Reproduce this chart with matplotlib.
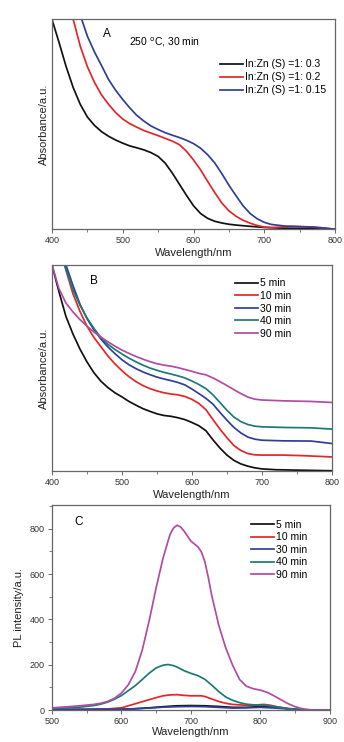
import matplotlib
matplotlib.use("Agg")
import matplotlib.pyplot as plt
from matplotlib.ticker import MultipleLocator, NullLocator

plt.rcParams["font.family"] = ["Liberation Sans", "DejaVu Sans"]

# ---- panel A: absorbance, 250 C, 30 min (arbitrary units, 0..1) ----
a_black_x = [400, 410, 420, 430, 440, 450, 460, 470, 480, 490, 500, 510, 520, 530, 540, 550,
             560, 570, 580, 590, 600, 610, 620, 630, 640, 650, 660, 680, 700, 720, 750, 800]
a_black_y = [1.0, 0.89, 0.775, 0.675, 0.595, 0.535, 0.495, 0.465, 0.443, 0.425, 0.41, 0.397,
             0.388, 0.378, 0.365, 0.347, 0.315, 0.268, 0.215, 0.162, 0.112, 0.075, 0.052,
             0.038, 0.030, 0.024, 0.020, 0.014, 0.009, 0.006, 0.004, 0.0]
a_red_x = [430, 440, 450, 460, 470, 480, 490, 500, 510, 520, 530, 540, 550, 560, 570, 580,
           590, 600, 610, 620, 630, 640, 650, 660, 670, 680, 690, 700, 710, 720, 740, 770, 800]
a_red_y = [1.0, 0.872, 0.775, 0.70, 0.64, 0.595, 0.556, 0.525, 0.503, 0.486, 0.47, 0.458,
           0.446, 0.433, 0.42, 0.403, 0.372, 0.33, 0.283, 0.228, 0.175, 0.125, 0.088, 0.062,
           0.043, 0.029, 0.018, 0.010, 0.008, 0.010, 0.014, 0.011, 0.0]
a_blue_x = [442, 450, 460, 470, 480, 490, 500, 510, 520, 530, 540, 550, 560, 570, 580, 590,
            600, 610, 620, 630, 640, 650, 660, 670, 680, 690, 700, 710, 730, 760, 785, 800]
a_blue_y = [1.0, 0.92, 0.845, 0.78, 0.713, 0.662, 0.618, 0.578, 0.542, 0.515, 0.492, 0.475,
            0.46, 0.448, 0.437, 0.424, 0.408, 0.386, 0.355, 0.316, 0.265, 0.21, 0.16, 0.112,
            0.075, 0.05, 0.033, 0.023, 0.015, 0.011, 0.006, 0.0]
a_labels = ["In:Zn (S) =1: 0.3", "In:Zn (S) =1: 0.2", "In:Zn (S) =1: 0.15"]

# ---- panel B: absorbance vs growth time ----
b_labels = ["5 min", "10 min", "30 min", "40 min", "90 min"]
b_5_x = [400, 410, 420, 430, 440, 450, 460, 470, 480, 490, 500, 510, 520, 530, 540, 550, 560,
         570, 580, 590, 600, 610, 620, 630, 640, 650, 660, 670, 680, 690, 700, 720, 750, 800]
b_5_y = [1.0, 0.87, 0.75, 0.665, 0.592, 0.53, 0.477, 0.436, 0.405, 0.38, 0.36, 0.338, 0.32,
         0.303, 0.29, 0.278, 0.27, 0.266, 0.259, 0.25, 0.236, 0.22, 0.196, 0.152, 0.112,
         0.078, 0.052, 0.035, 0.024, 0.016, 0.011, 0.007, 0.005, 0.002]
b_10_x = [418, 420, 430, 440, 450, 460, 470, 480, 490, 500, 510, 520, 530, 540, 550, 560, 570,
          580, 590, 600, 610, 620, 630, 640, 650, 660, 670, 680, 690, 700, 730, 760, 800]
b_10_y = [1.0, 0.975, 0.86, 0.775, 0.703, 0.648, 0.603, 0.558, 0.52, 0.487, 0.458, 0.434,
          0.415, 0.40, 0.389, 0.38, 0.374, 0.370, 0.362, 0.348, 0.328, 0.298, 0.25, 0.204,
          0.162, 0.124, 0.1, 0.085, 0.079, 0.078, 0.078, 0.075, 0.069]
b_30_x = [420, 430, 440, 450, 460, 470, 480, 490, 500, 510, 520, 530, 540, 550, 560, 570, 580,
          590, 600, 610, 620, 630, 640, 650, 660, 670, 680, 690, 700, 730, 770, 800]
b_30_y = [1.0, 0.9, 0.81, 0.74, 0.685, 0.64, 0.602, 0.57, 0.54, 0.516, 0.497, 0.481, 0.468,
          0.456, 0.447, 0.439, 0.43, 0.418, 0.398, 0.376, 0.353, 0.325, 0.285, 0.247, 0.212,
          0.185, 0.165, 0.155, 0.150, 0.147, 0.146, 0.134]
b_40_x = [418, 420, 430, 440, 450, 460, 470, 480, 490, 500, 510, 520, 530, 540, 550, 560, 570,
          580, 590, 600, 610, 620, 630, 640, 650, 660, 670, 680, 690, 700, 730, 770, 800]
b_40_y = [1.0, 0.98, 0.88, 0.805, 0.743, 0.692, 0.648, 0.615, 0.59, 0.568, 0.548, 0.53, 0.514,
          0.50, 0.489, 0.479, 0.471, 0.462, 0.452, 0.437, 0.42, 0.40, 0.37, 0.333, 0.295,
          0.262, 0.24, 0.226, 0.218, 0.215, 0.212, 0.21, 0.204]
b_90_x = [400, 410, 420, 430, 440, 450, 460, 470, 480, 490, 500, 510, 520, 530, 540, 550, 560,
          570, 580, 590, 600, 610, 620, 630, 640, 650, 660, 670, 680, 690, 700, 730, 770, 800]
b_90_y = [1.0, 0.885, 0.815, 0.772, 0.735, 0.703, 0.675, 0.65, 0.627, 0.606, 0.587, 0.571,
          0.556, 0.543, 0.531, 0.521, 0.514, 0.509, 0.502, 0.493, 0.484, 0.474, 0.467, 0.452,
          0.434, 0.415, 0.395, 0.376, 0.359, 0.349, 0.345, 0.341, 0.338, 0.333]

# ---- panel C: PL spectra ----
c_5_x = [500, 600, 620, 640, 660, 680, 700, 720, 740, 760, 780, 800, 810, 820, 840, 860, 880, 900]
c_5_y = [2, 4, 6, 10, 15, 19, 20, 19, 16, 12, 12, 16, 17, 14, 6, 1, 0, 0]
c_10_x = [500, 560, 580, 600, 620, 640, 650, 660, 670, 680, 690, 700, 715, 720, 730, 740, 750,
          760, 780, 790, 800, 805, 815, 825, 840, 860, 880, 900]
c_10_y = [2, 3, 5, 10, 28, 46, 55, 63, 67, 68, 65, 63, 63, 60, 49, 38, 30, 25, 21, 21, 24, 25,
          21, 14, 7, 2, 0, 0]
c_30_x = [500, 600, 620, 640, 660, 680, 700, 720, 740, 760, 780, 800, 820, 840, 860, 880, 900]
c_30_y = [2, 4, 6, 9, 13, 15, 16, 15, 12, 9, 10, 12, 9, 5, 1, 0, 0]
c_40_x = [500, 520, 540, 560, 570, 580, 590, 600, 610, 620, 630, 640, 650, 660, 667, 675, 680,
          690, 700, 710, 720, 730, 740, 750, 760, 770, 780, 790, 800, 810, 820, 830, 840, 850,
          860, 880, 900]
c_40_y = [7, 9, 13, 20, 26, 35, 48, 64, 86, 108, 135, 163, 186, 198, 201, 196, 190, 174, 162,
          152, 136, 110, 82, 58, 43, 33, 26, 23, 22, 20, 16, 11, 6, 3, 1, 0, 0]
c_90_x = [500, 520, 540, 560, 570, 580, 590, 600, 610, 620, 630, 640, 650, 660, 670, 675, 680,
          685, 690, 700, 710, 715, 720, 725, 730, 740, 750, 760, 770, 780, 790, 800, 810, 820,
          830, 840, 850, 860, 870, 880, 900]
c_90_y = [10, 14, 19, 25, 30, 38, 52, 75, 112, 170, 265, 395, 540, 672, 775, 803, 815, 808,
          790, 745, 720, 698, 655, 585, 505, 375, 275, 198, 135, 105, 94, 88, 78, 62, 45, 28,
          15, 6, 2, 0, 0]

black = "#111111"
red = "#e3262a"
blue = "#2f3f98"
teal = "#1b7b72"
magenta = "#b04ba6"
spine_col = "#666666"
text_col = "#222222"


def style(ax, xmin, xmax, xlpad):
    for s in ax.spines.values():
        s.set_color(spine_col)
        s.set_linewidth(0.9)
    ax.set_xlim(xmin, xmax)
    ax.xaxis.set_major_locator(MultipleLocator(100))
    ax.xaxis.set_minor_locator(MultipleLocator(50))
    ax.tick_params(which="major", direction="out", length=3, width=0.7,
                   color=spine_col, labelsize=6.5, pad=2, labelcolor="#333333")
    ax.tick_params(which="minor", direction="out", length=2, width=0.6, color=spine_col)
    ax.set_xlabel("Wavelength/nm", fontsize=8, labelpad=xlpad, color=text_col)


def legend(ax, x, y, spacing):
    ax.legend(loc="upper left", bbox_to_anchor=(x, y), frameon=False, fontsize=7.5,
              handlelength=2.2, handletextpad=0.2, labelspacing=spacing,
              borderaxespad=0, borderpad=0)


fig = plt.figure(figsize=(3.44, 7.42), dpi=100)
lw = 1.25

# A
ax1 = fig.add_axes([0.151, 0.691, 0.823, 0.283])
ax1.plot(a_black_x, a_black_y, color=black, lw=lw, label=a_labels[0])
ax1.plot(a_red_x, a_red_y, color=red, lw=lw, label=a_labels[1])
ax1.plot(a_blue_x, a_blue_y, color=blue, lw=lw, label=a_labels[2])
style(ax1, 400, 800, 2)
ax1.set_ylim(0, 1.0)
ax1.yaxis.set_major_locator(NullLocator())
ax1.set_ylabel("Absorbance/a.u.", fontsize=8, labelpad=2, color=text_col)
ax1.text(0.18, 0.93, "A", transform=ax1.transAxes, fontsize=8.5, va="center")
ax1.text(0.272, 0.89, "250 $^{\\mathrm{o}}$C, 30 min", transform=ax1.transAxes,
         fontsize=7.5, va="center")
legend(ax1, 0.594, 0.81, 0.3)

# B
ax2 = fig.add_axes([0.151, 0.365, 0.814, 0.278])
for xs, ys, c, lab in [(b_5_x, b_5_y, black, b_labels[0]), (b_10_x, b_10_y, red, b_labels[1]),
                       (b_30_x, b_30_y, blue, b_labels[2]), (b_40_x, b_40_y, teal, b_labels[3]),
                       (b_90_x, b_90_y, magenta, b_labels[4])]:
    ax2.plot(xs, ys, color=c, lw=lw, label=lab)
style(ax2, 400, 800, 2)
ax2.set_ylim(0, 1.0)
ax2.yaxis.set_major_locator(NullLocator())
ax2.set_ylabel("Absorbance/a.u.", fontsize=8, labelpad=2, color=text_col)
ax2.text(0.136, 0.922, "B", transform=ax2.transAxes, fontsize=8.5, va="center")
legend(ax2, 0.654, 0.935, 0.25)

# C
ax3 = fig.add_axes([0.151, 0.043, 0.808, 0.276])
for xs, ys, c, lab in [(c_5_x, c_5_y, black, b_labels[0]), (c_10_x, c_10_y, red, b_labels[1]),
                       (c_30_x, c_30_y, blue, b_labels[2]), (c_40_x, c_40_y, teal, b_labels[3]),
                       (c_90_x, c_90_y, magenta, b_labels[4])]:
    ax3.plot(xs, ys, color=c, lw=lw, label=lab)
style(ax3, 500, 900, 0.5)
ax3.set_ylim(0, 903)
ax3.yaxis.set_major_locator(MultipleLocator(200))
ax3.yaxis.set_minor_locator(MultipleLocator(100))
ax3.set_ylabel("PL intensity/a.u.", fontsize=8, labelpad=4, color=text_col)
ax3.text(0.079, 0.917, "C", transform=ax3.transAxes, fontsize=8.5, va="center")
legend(ax3, 0.716, 0.93, 0.25)

fig.savefig("out.png", dpi=100)
